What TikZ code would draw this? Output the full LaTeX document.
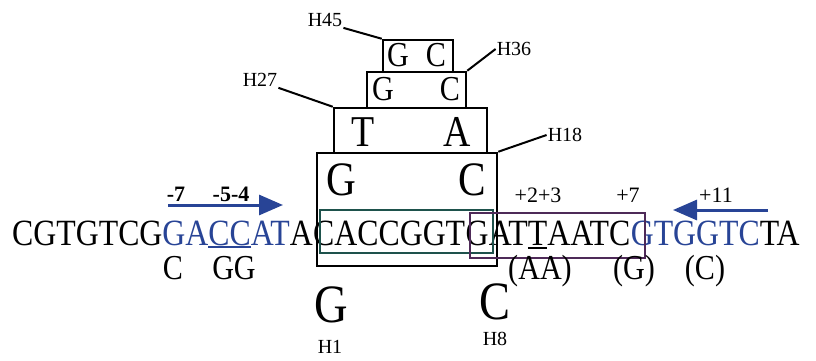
\documentclass[tikz,border=0pt]{standalone}
\usepackage{fontspec}
\setmainfont{Liberation Serif}
\newfontfamily\seqfont[FakeStretch=0.86]{Liberation Serif}
\usetikzlibrary{arrows.meta}
\usetikzlibrary{positioning}

\definecolor{seqblue}{RGB}{40,68,150}
\definecolor{seqteal}{RGB}{30,82,76}
\definecolor{seqpurple}{RGB}{78,42,88}

\newcommand{\seqsize}{\fontsize{37pt}{40pt}\selectfont}
\newsavebox{\ulbox}
% underlined base: [drop]{colour}{text}
\newcommand{\sequl}[3][-3pt]{\sbox{\ulbox}{#3}\rlap{\smash{\textcolor{#2}{\rule[#1]{\wd\ulbox}{1.6pt}}}}\usebox{\ulbox}}

\begin{document}
\begin{tikzpicture}[x=1pt,y=-1pt,
  seq/.style={inner sep=0pt, anchor=base west, font=\seqfont\seqsize},
  mut/.style={inner sep=0pt, anchor=base, font=\seqfont\fontsize{35pt}{38pt}\selectfont},
  pairbox/.style={draw, line width=2.5pt, inner sep=0pt},
  base/.style={inner sep=0pt, font=\seqfont\fontsize{#1}{#1}\selectfont},
  hlabel/.style={inner sep=1pt, font=\fontsize{20pt}{22pt}\selectfont},
  posnum/.style={inner sep=0pt, anchor=base, font=\fontsize{22pt}{24pt}\selectfont},
  leader/.style={line width=2pt},
  bluearrow/.style={draw=seqblue, line width=3pt, -{Triangle[length=24pt,width=20pt]}}]
  \useasboundingbox (0,0) rectangle (816,361);

  %stacked base pairs
  \node[pairbox, minimum width=70pt, minimum height=32pt] (pair45) at (418,56) {};
  \node[pairbox, minimum width=99pt, minimum height=36pt] (pair36) at (416.5,90) {};
  \node[pairbox, minimum width=153pt, minimum height=45pt] (pair27) at (410.5,130.5) {};
  \node[pairbox, minimum width=180pt, minimum height=113pt] (pair18) at (407,209.5) {};

  \node[base=35pt] (g4) at (398,55) {G};
  \node[base=35pt] (c5) at (436,55) {C};
  \node[base=35pt] (g3) at (383,89) {G};
  \node[base=35pt] (c6) at (450,89) {C};
  \node[base=44pt] (t2) at (363,132) {T};
  \node[base=44pt] (a7) at (457,132) {A};
  \node[base=48pt] (g1top) at (341,180) {G};
  \node[base=48pt] (c8top) at (472,180) {C};

  %labels and leader lines
  \node[hlabel] (h45) at (325,20) {H45};
  \node[hlabel] (h36) at (514,49) {H36};
  \node[hlabel] (h27) at (260,80) {H27};
  \node[hlabel] (h18) at (565,135) {H18};
  \draw[leader] (h45.south east) -- (pair45.north west);
  \draw[leader] (h36.west) -- (pair36.north east);
  \draw[leader] (h27.south east) -- (pair27.north west);
  \draw[leader] (h18.west) -- (pair18.north east);

  %sequence
  \node[seq] (s1) at (12,245) {CGTGTCG\textcolor{seqblue}{GA\sequl{seqblue}{CC}AT}A};
  \node[seq] (s2) at (s1.base east) {CACCGGT};
  \node[seq] (s3) at (s2.base east) {\sequl[-9pt]{seqpurple}{G}};
  \node[seq] (s4) at (s3.base east) {AT\sequl[-4pt]{black}{T}AATC};
  \node[seq] (s5) at (s4.base east) {\textcolor{seqblue}{GTGGTC}TA};

  \draw[seqteal, line width=2.5pt] (320,210) rectangle (493,253);
  \draw[seqpurple, line width=2.5pt] (470,213) rectangle (645,258);

  %positions
  \node[posnum, font=\bfseries\fontsize{22pt}{24pt}\selectfont] (m7) at (176,201) {-7};
  \node[posnum, font=\bfseries\fontsize{22pt}{24pt}\selectfont] (m54) at (231,201) {-5-4};
  \node[posnum] (p23) at (538,202) {+2+3};
  \node[posnum] (p7) at (628,202) {+7};
  \node[posnum] (p11) at (716,202) {+11};

  %primers
  \coordinate (fwdtail) at (168,205);
  \coordinate (fwdtip) at (283,205);
  \coordinate (revtail) at (768,210);
  \coordinate (revtip) at (673,210);
  \draw[bluearrow] (fwdtail) -- (fwdtip);
  \draw[bluearrow] (revtail) -- (revtip);

  %variants
  \node[mut] (vc) at (173,279) {C};
  \node[mut] (vgg) at (234,279) {GG};
  \node[mut] (vaa) at (540,279) {(AA)};
  \node[mut] (vg) at (634,279) {(G)};
  \node[mut] (vcc) at (705,279) {(C)};

  %closing pair
  \node[base=54pt] (g1) at (331,305) {G};
  \node[base=54pt] (c8) at (495,302) {C};
  \node[hlabel] (h1) at (330,347) {H1};
  \node[hlabel] (h8) at (495,339) {H8};
\end{tikzpicture}
\end{document}
